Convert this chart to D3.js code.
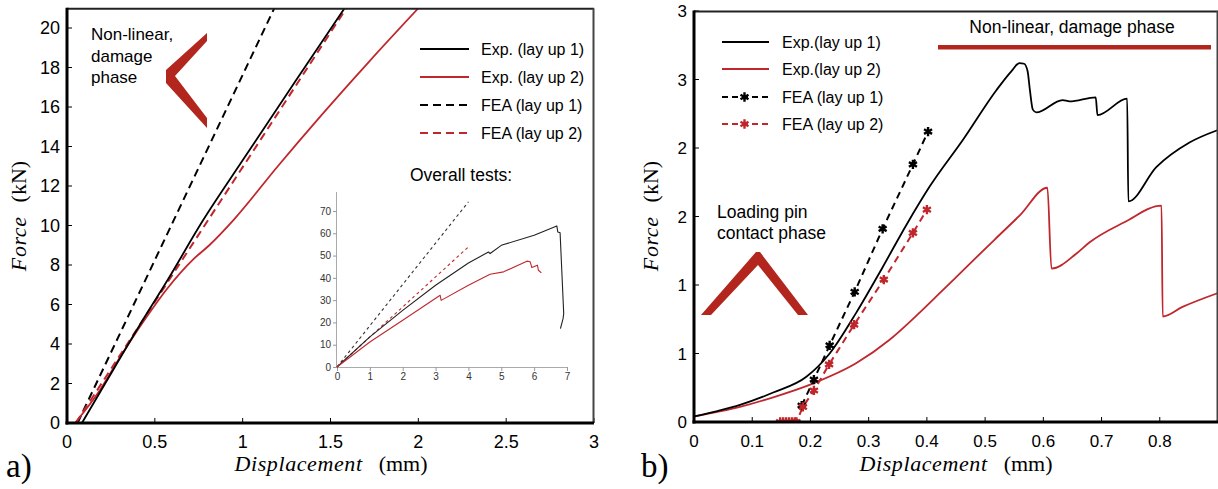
<!DOCTYPE html>
<html>
<head>
<meta charset="utf-8">
<script src="https://cdn.jsdelivr.net/npm/d3@7/dist/d3.min.js"></script>
<style>
  body { margin: 0; background: #fff; }
  svg { display: block; }
</style>
</head>
<body>
<div id="chart"></div>
<script>
// ---- panel a) : linear part (mm, kN) ----
const leftXTicks = [0, 0.5, 1, 1.5, 2, 2.5, 3];
const leftYTicks = [0, 2, 4, 6, 8, 10, 12, 14, 16, 18, 20];
const leftExp1 = [[0.085, 0], [0.27, 2.8], [0.41, 4.9], [0.57, 7.2], [0.77, 10.2], [1.0, 13.3], [1.3, 17.3], [1.58, 21]];
const leftExp2 = [[0.046, 0], [0.19, 1.7], [0.30, 3.3], [0.44, 5.2], [0.57, 6.8], [0.72, 8.3], [0.81, 9.0], [0.95, 10.3], [1.2, 13.0], [1.44, 15.5], [1.72, 18.3], [2.0, 21]];
const leftFea1 = [[0.06, 0], [1.18, 21]];
const leftFea2 = [[0.05, 0], [1.59, 21]];

// ---- inset : overall tests ----
const insetXTicks = [0, 1, 2, 3, 4, 5, 6, 7];
const insetYTicks = [0, 10, 20, 30, 40, 50, 60, 70];
const insetExp1 = [[0, 0], [1, 13.5], [2, 25.4], [3, 36.7], [4, 46.7], [4.61, 51.6], [4.66, 50.9], [5.0, 54.6], [6.0, 59.1], [6.69, 63.3], [6.72, 60.6], [6.79, 60.2], [6.9, 24], [6.88, 21.7], [6.8, 17.2]];
const insetExp2 = [[0, 0], [1, 11.2], [2, 21], [3.14, 32.2], [3.17, 29.9], [4, 36.7], [4.66, 41.6], [5.07, 42.7], [5.78, 47.5], [5.88, 47.2], [5.93, 44.6], [6.1, 45.7], [6.13, 43.4], [6.22, 42.2]];
const insetFea1 = [[0, 0], [4.0, 74.1]];
const insetFea2 = [[0, 0], [4.0, 53.9]];

// ---- panel b) : contact + damage phase ----
const rightXTicks = [0, 0.1, 0.2, 0.3, 0.4, 0.5, 0.6, 0.7, 0.8];
const rightYTicks = [0, 0.5, 1, 1.5, 2, 2.5, 3];
const rightYLabels = ['0', '1', '1', '2', '2', '3', '3'];
const rightExp1 = [[0, 0.04], [0.04, 0.08], [0.079, 0.125], [0.136, 0.215], [0.193, 0.33], [0.233, 0.5], [0.279, 0.8], [0.324, 1.13], [0.365, 1.44], [0.405, 1.72], [0.462, 2.06], [0.519, 2.42], [0.545, 2.56], [0.559, 2.62], [0.567, 2.615], [0.573, 2.56], [0.577, 2.42], [0.582, 2.28], [0.588, 2.26], [0.633, 2.35], [0.645, 2.34], [0.69, 2.37], [0.693, 2.24], [0.744, 2.36], [0.746, 1.61], [0.794, 1.86], [0.851, 2.04], [0.899, 2.13]];
const rightExp2 = [[0, 0.04], [0.079, 0.11], [0.136, 0.18], [0.204, 0.28], [0.279, 0.43], [0.336, 0.6], [0.388, 0.8], [0.422, 0.94], [0.47, 1.14], [0.516, 1.33], [0.56, 1.51], [0.607, 1.71], [0.614, 1.12], [0.657, 1.23], [0.679, 1.31], [0.74, 1.46], [0.803, 1.58], [0.805, 0.77], [0.839, 0.84], [0.899, 0.94]];
const rightFea1 = [[0.185, 0.12], [0.206, 0.31], [0.233, 0.56], [0.276, 0.95], [0.324, 1.41], [0.376, 1.88], [0.402, 2.12]];
const rightFea2 = [[0.148, 0], [0.153, 0], [0.158, 0], [0.163, 0], [0.168, 0], [0.173, 0], [0.176, 0], [0.187, 0.11], [0.206, 0.23], [0.232, 0.42], [0.275, 0.71], [0.326, 1.04], [0.376, 1.38], [0.4, 1.55]];

const legendA = ['Exp. (lay up 1)', 'Exp. (lay up 2)', 'FEA (lay up 1)', 'FEA (lay up 2)'];
const legendB = ['Exp.(lay up 1)', 'Exp.(lay up 2)', 'FEA (lay up 1)', 'FEA (lay up 2)'];

(function () {
    const width = 1218;
    const height = 489;
    const RED = '#c0272d';
    const DARKRED = '#b3261e';
    const SANS = '"Liberation Sans", Arial, sans-serif';
    const SERIF = '"Liberation Serif", "DejaVu Serif", serif';

    const svg = d3.select('#chart').append('svg')
        .attr('width', width).attr('height', height)
        .attr('viewBox', `0 0 ${width} ${height}`);
    const defs = svg.append('defs');

    function clip(id, x0, y0, x1, y1) {
        defs.append('clipPath').attr('id', id).append('rect')
            .attr('x', x0).attr('y', y0).attr('width', x1 - x0).attr('height', y1 - y0);
        return `url(#${id})`;
    }

    // smooth = monotone in x (only for series whose x never goes back)
    function drawSeries(g, data, x, y, color, dash, w, smooth) {
        const line = d3.line()
            .x(d => x(d[0])).y(d => y(d[1]))
            .curve(smooth ? d3.curveMonotoneX : d3.curveLinear);
        g.append('path')
            .attr('d', line(data))
            .attr('fill', 'none')
            .attr('stroke', color)
            .attr('stroke-width', w)
            .attr('stroke-dasharray', dash || null)
            .attr('stroke-linejoin', 'round');
    }

    function drawFrame(x, y, yLabels, fontSize) {
        const [x0, x1] = x.range();
        const [y0, y1] = y.range();
        const g = svg.append('g');

        // inward ticks, plain labels
        g.selectAll('.xt').data(x.tickVals).enter().append('line')
            .attr('x1', d => x(d)).attr('x2', d => x(d))
            .attr('y1', y0).attr('y2', y0 - 5)
            .attr('stroke', '#000').attr('stroke-width', 1);
        g.selectAll('.xl').data(x.tickVals).enter().append('text')
            .attr('x', d => x(d)).attr('y', y0 + 25)
            .attr('text-anchor', 'middle')
            .attr('font-family', SANS).attr('font-size', fontSize)
            .text(d => d);
        g.selectAll('.yt').data(y.tickVals).enter().append('line')
            .attr('x1', x0).attr('x2', x0 + 5)
            .attr('y1', d => y(d)).attr('y2', d => y(d))
            .attr('stroke', '#000').attr('stroke-width', 1);
        g.selectAll('.yl').data(y.tickVals).enter().append('text')
            .attr('x', x0 - 7).attr('y', d => y(d) + fontSize * 0.36)
            .attr('text-anchor', 'end')
            .attr('font-family', SANS).attr('font-size', fontSize)
            .text((d, i) => yLabels ? yLabels[i] : d);

        // box: heavy left/bottom, light top/right
        g.append('line').attr('x1', x0).attr('x2', x1).attr('y1', y1 + 0.5).attr('y2', y1 + 0.5)
            .attr('stroke', '#222').attr('stroke-width', 2);
        g.append('line').attr('x1', x1 - 0.5).attr('x2', x1 - 0.5).attr('y1', y1).attr('y2', y0)
            .attr('stroke', '#444').attr('stroke-width', 2);
        g.append('line').attr('x1', x0).attr('x2', x0).attr('y1', y1 - 0.5).attr('y2', y0 + 1.5)
            .attr('stroke', '#000').attr('stroke-width', 3);
        g.append('line').attr('x1', x0 - 1.5).attr('x2', x1).attr('y1', y0).attr('y2', y0)
            .attr('stroke', '#000').attr('stroke-width', 3);
    }

    function axisTitles(cyY, lx, xTitleX, tag, tagX) {
        const xt = svg.append('text')
            .attr('x', xTitleX).attr('y', 471)
            .attr('text-anchor', 'middle')
            .attr('font-family', SERIF).attr('font-size', 22);
        xt.append('tspan').attr('font-style', 'italic').attr('letter-spacing', 0.6).text('Displacement');
        xt.append('tspan').attr('dx', 16).text('(mm)');

        const yt = svg.append('text')
            .attr('transform', `translate(${lx},${cyY}) rotate(-90)`)
            .attr('text-anchor', 'middle')
            .attr('font-family', SERIF).attr('font-size', 22);
        yt.append('tspan').attr('font-style', 'italic').attr('letter-spacing', 0.6).text('Force');
        yt.append('tspan').attr('dx', 14).text('(kN)');

        svg.append('text')
            .attr('x', tagX).attr('y', 477)
            .attr('font-family', SERIF).attr('font-size', 33)
            .text(tag);
    }

    function legend(items, x0, x1, tx, ys, styles, fontSize, marker) {
        items.forEach((label, i) => {
            const s = styles[i];
            svg.append('line')
                .attr('x1', x0).attr('x2', x1).attr('y1', ys[i]).attr('y2', ys[i])
                .attr('stroke', s.color).attr('stroke-width', 2)
                .attr('stroke-dasharray', s.dash || null);
            if (marker && s.dash) {
                svg.append('path')
                    .attr('d', d3.symbol(d3.symbolAsterisk, 60)())
                    .attr('transform', `translate(${(x0 + x1) / 2 - 1},${ys[i]})`)
                    .attr('fill', 'none').attr('stroke', s.color).attr('stroke-width', 2.4);
            }
            svg.append('text')
                .attr('x', tx).attr('y', ys[i] + fontSize * 0.36)
                .attr('font-family', SANS).attr('font-size', fontSize)
                .text(label);
        });
    }

    // ================= panel a) =================
    const xa = d3.scaleLinear().domain([0, 3]).range([67, 594]);
    const ya = d3.scaleLinear().domain([0, 21]).range([423, 8.25]);
    xa.tickVals = leftXTicks;
    ya.tickVals = leftYTicks;

    const ga = svg.append('g').attr('clip-path', clip('clipA', 67, 8, 594, 423));
    drawSeries(ga, leftFea1, xa, ya, '#000', '8,5', 2);
    drawSeries(ga, leftExp2, xa, ya, RED, null, 1.8, true);
    drawSeries(ga, leftFea2, xa, ya, RED, '8,5', 2);
    drawSeries(ga, leftExp1, xa, ya, '#000', null, 1.8, true);

    // annotation: non-linear damage phase
    svg.append('polygon')
        .attr('points', '207,33 207,41 175,76 207,118 207,128 166,83 166,70')
        .attr('fill', DARKRED);
    ['Non-linear,', 'damage', 'phase'].forEach((t, i) => {
        svg.append('text').attr('x', 91).attr('y', 40 + i * 21.5)
            .attr('font-family', SANS).attr('font-size', 17).text(t);
    });

    legend(legendA, 420, 469, 481, [49, 77, 105, 133], [
        { color: '#000' }, { color: RED }, { color: '#000', dash: '8,5' }, { color: RED, dash: '8,5' }
    ], 16, false);

    // inset
    svg.append('text').attr('x', 410).attr('y', 181)
        .attr('font-family', SANS).attr('font-size', 17.5).text('Overall tests:');
    const xi = d3.scaleLinear().domain([0, 7]).range([337, 567]);
    const yi = d3.scaleLinear().domain([0, 70]).range([367, 211]);
    const gi = svg.append('g');
    gi.append('g').attr('transform', 'translate(0,367)')
        .call(d3.axisBottom(xi).tickValues(insetXTicks).tickFormat(d3.format('d'))
            .tickSize(4).tickSizeOuter(0).tickPadding(2));
    gi.append('g').attr('class', 'iy').attr('transform', 'translate(337,0)')
        .call(d3.axisLeft(yi).tickValues(insetYTicks).tickFormat(d3.format('d'))
            .tickSize(4).tickSizeOuter(0).tickPadding(2));
    gi.selectAll('.domain').attr('stroke', '#aaa');
    gi.select('.iy .domain').attr('d', 'M-0.5,367V192');
    gi.selectAll('.tick line').attr('stroke', '#999');
    gi.selectAll('.tick text').attr('font-family', SANS).attr('font-size', 10).attr('fill', '#333');
    drawSeries(gi, insetFea1, xi, yi, '#333', '3,3', 1.1);
    drawSeries(gi, insetFea2, xi, yi, RED, '3,3', 1.1);
    drawSeries(gi, insetExp1, xi, yi, '#222', null, 1.1);
    drawSeries(gi, insetExp2, xi, yi, RED, null, 1.1);

    drawFrame(xa, ya, null, 18);
    axisTitles(216, 26, 331, 'a)', 6);

    // ================= panel b) =================
    const xb = d3.scaleLinear().domain([0, 0.9]).range([694, 1218]);
    const yb = d3.scaleLinear().domain([0, 3]).range([422, 11]);
    xb.tickVals = rightXTicks;
    yb.tickVals = rightYTicks;

    const gb = svg.append('g').attr('clip-path', clip('clipB', 694, 10, 1217, 422));
    drawSeries(gb, rightExp2, xb, yb, RED, null, 1.8, true);
    drawSeries(gb, rightExp1, xb, yb, '#000', null, 1.8, true);
    drawSeries(gb, rightFea1, xb, yb, '#000', '7,5', 2);
    drawSeries(gb, rightFea2, xb, yb, RED, '7,5', 2);

    const sym = d3.symbol(d3.symbolAsterisk, 60)();
    [[rightFea1, '#000'], [rightFea2, RED]].forEach(([data, c]) => {
        gb.selectAll(null).data(data).enter().append('path')
            .attr('d', sym)
            .attr('transform', d => `translate(${xb(d[0])},${yb(d[1])})`)
            .attr('fill', 'none').attr('stroke', c).attr('stroke-width', 2.4);
    });

    // annotations
    svg.append('text').attr('x', 1072).attr('y', 33)
        .attr('text-anchor', 'middle')
        .attr('font-family', SANS).attr('font-size', 17.5).text('Non-linear, damage phase');
    svg.append('rect').attr('x', 938).attr('y', 45).attr('width', 273).attr('height', 4.5)
        .attr('fill', DARKRED);
    svg.append('text').attr('x', 717).attr('y', 218)
        .attr('font-family', SANS).attr('font-size', 17.5).text('Loading pin');
    svg.append('text').attr('x', 717).attr('y', 239)
        .attr('font-family', SANS).attr('font-size', 17.5).text('contact phase');
    svg.append('polygon')
        .attr('points', '701,315 756,252 760,252 808,315 798,315 758,265 711,315')
        .attr('fill', DARKRED);

    legend(legendB, 722, 769, 782, [42, 69, 97, 124], [
        { color: '#000' }, { color: RED }, { color: '#000', dash: '6,4' }, { color: RED, dash: '6,4' }
    ], 16, true);

    drawFrame(xb, yb, rightYLabels, 17);
    axisTitles(216, 658, 956, 'b)', 641);
})();
</script>
</body>
</html>
